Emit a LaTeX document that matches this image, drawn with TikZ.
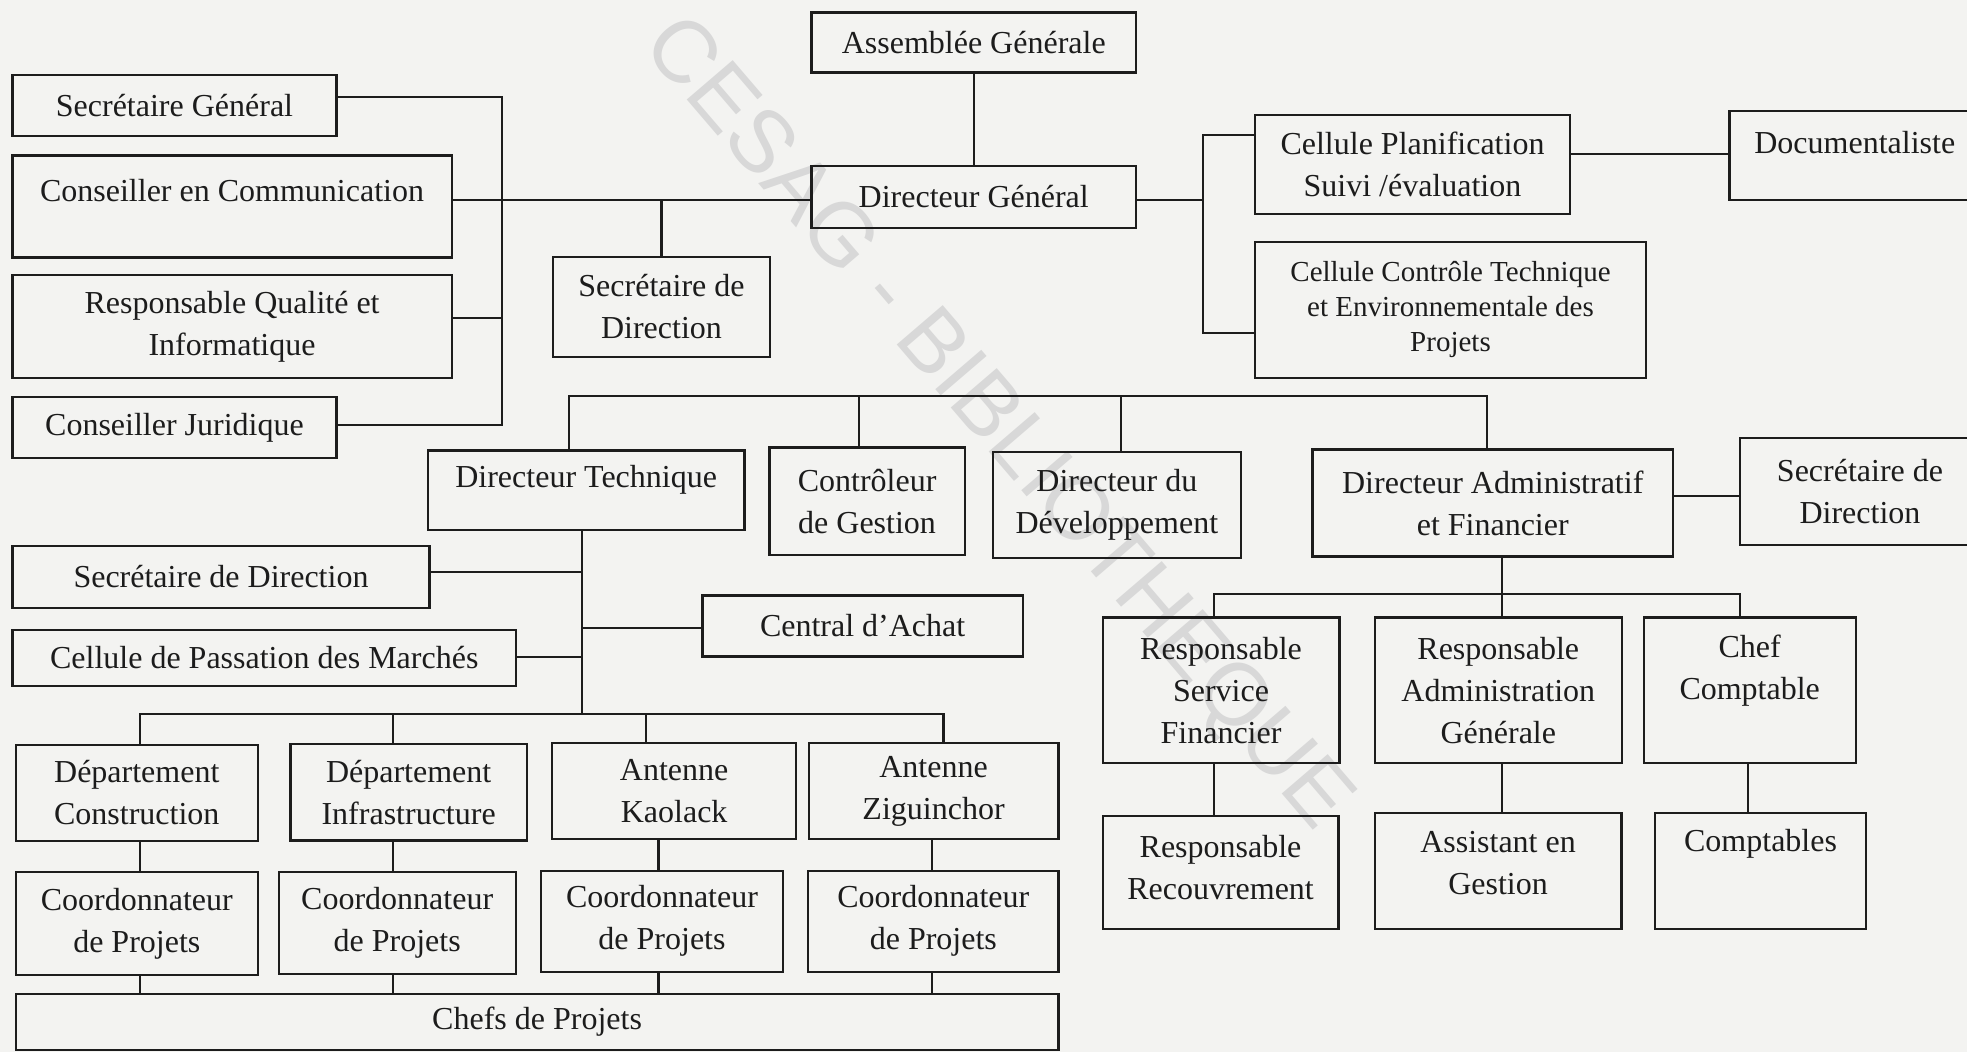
\documentclass[tikz,border=0pt]{standalone}
\usepackage{fontspec}
\setmainfont{Liberation Serif}
\newfontfamily\wmfont{Liberation Sans}
\definecolor{bg}{RGB}{243,243,241}
\definecolor{ink}{RGB}{28,28,28}
\definecolor{wmc}{RGB}{216,216,216}
\tikzset{
  box/.style={draw=ink, line width=1.1pt, inner sep=0pt, align=center, text=ink,
    font=\fontsize{16}{21}\selectfont},
  smalltext/.style={font=\fontsize{14.5}{17.5}\selectfont},
  link/.style={draw=ink, line width=1.1pt},
  wm/.style={text=wmc, font=\wmfont\fontsize{44}{44}\selectfont, inner sep=0pt}
}
% \bx[opts]{name}{x1}{y1}{x2}{y2}{text}
\newcommand\bx[7][]{\node[box,#1,minimum width={(#5-#3)*0.5pt},minimum height={(#6-#4)*0.5pt}] (#2) at ({(#3+#5)/2},{(#4+#6)/2}) {#7};}
\begin{document}
\begin{tikzpicture}[x=0.5pt,y=-0.5pt]
\useasboundingbox (0,0) rectangle (1967,1052);
\fill[bg] (0,0) rectangle (1967,1052);
\clip (0,0) rectangle (1967,1052);
\node[wm, rotate=-49.4] (wmark) at (995,425) {CESAG - BIBLIOTHEQUE};

% top level
\bx{ag}{811.5}{12.5}{1136}{72.5}{Assemblée Générale}
\bx{dg}{811.5}{166}{1136}{228}{Directeur Général}
% left staff
\bx{sg}{12.5}{75}{336.5}{136}{Secrétaire Général}
\bx{cc}{12.5}{155.6}{451.6}{257.5}{Conseiller en Communication\\[-5pt]\mbox{}}
\bx{rqi}{12.5}{275}{451.6}{378}{Responsable Qualité et\\Informatique}
\bx{cj}{12.5}{397}{336.5}{458}{Conseiller Juridique}
\bx{sdt}{553}{257}{770}{357}{Secrétaire de\\Direction}
% right staff
\bx{cps}{1255}{115}{1570}{214}{Cellule Planification\\Suivi /évaluation}
\bx{doc}{1729.5}{111}{1980}{200}{Documentaliste\\[-8pt]\mbox{}}
\bx[smalltext]{cct}{1255}{242}{1646}{378}{Cellule Contrôle Technique\\et Environnementale des\\Projets}
% directors
\bx{dt}{427.8}{450.5}{744.5}{530}{Directeur Technique\\[-7.5pt]\mbox{}}
\bx{cdg}{769.5}{447.5}{964.7}{555}{Contrôleur\\de Gestion}
\bx{ddd}{993}{452}{1240.7}{558.3}{Directeur du\\Développement}
\bx{daf}{1312.5}{449.5}{1673}{556.5}{Directeur Administratif\\et Financier}
\bx{sdr}{1740}{438}{1980}{545}{Secrétaire de\\Direction}
% technical branch
\bx{sdl}{12.5}{546}{429.5}{608}{Secrétaire de Direction}
\bx{ca}{702.5}{595.5}{1022.8}{656.5}{Central d’Achat}
\bx{cpm}{12.5}{630}{516}{686}{Cellule de Passation des Marchés}
\bx{dc}{15.8}{745}{257.8}{840.7}{Département\\Construction}
\bx{di}{290.5}{744}{526.8}{840.5}{Département\\Infrastructure}
\bx{ak}{552.3}{743.3}{796}{839.3}{Antenne\\Kaolack}
\bx{az}{808.7}{743.3}{1058.4}{839.3}{Antenne\\Ziguinchor}
\bx{c1}{15.8}{872.3}{257.8}{975}{Coordonnateur\\de Projets}
\bx{c2}{278.8}{871.7}{515.6}{974}{Coordonnateur\\de Projets}
\bx{c3}{541}{870.7}{783}{971.7}{Coordonnateur\\de Projets}
\bx{c4}{808.3}{870.7}{1058.4}{971.7}{Coordonnateur\\de Projets}
\bx{chefs}{15.8}{994}{1058.4}{1050}{Chefs de Projets}
% administrative branch
\bx{rsf}{1102.6}{617.5}{1339.5}{763}{Responsable\\Service\\Financier}
\bx{rag}{1374.6}{617.5}{1622}{763}{Responsable\\Administration\\Générale}
\bx{chc}{1643.6}{617.5}{1855.8}{763}{Chef\\Comptable\\[2.5pt]\mbox{}}
\bx{rr}{1102.6}{815.7}{1338.5}{929}{Responsable\\Recouvrement\\[-16pt]\mbox{}}
\bx{aeg}{1374.6}{813}{1621.5}{929}{Assistant en\\Gestion\\[-13pt]\mbox{}}
\bx{cpt}{1655.3}{813}{1865.8}{929}{Comptables\\[9.5pt]\mbox{}}

% junction coordinates
\coordinate (lb1) at (502,97);
\coordinate (lcc) at (502,200);
\coordinate (lrq) at (502,318);
\coordinate (lb4) at (502,425);
\coordinate (rb) at (1203,200);
\coordinate (rb1) at (1203,135);
\coordinate (rb2) at (1203,333);
\coordinate (dl) at (1650,154);
\coordinate (tb1) at (569,396);
\coordinate (tb3) at (859,396);
\coordinate (tb4) at (1121,396);
\coordinate (tb2) at (1487,396);
\coordinate (dv1) at (582,572);
\coordinate (dv2) at (582,628);
\coordinate (dv3) at (582,657);
\coordinate (db) at (582,714);
\coordinate (b1) at (140,714);
\coordinate (b2) at (393,714);
\coordinate (b3) at (646,714);
\coordinate (b4) at (943.5,714);
\coordinate (x3) at (658.5,714);
\coordinate (x4) at (932,714);
\coordinate (fb) at (1502,594);
\coordinate (fb1) at (1213.7,594);
\coordinate (fb3) at (1740,594);
\coordinate (cx) at (1748,594);
\coordinate (dr) at (1700,496);

% connectors
\draw[link] (ag) -- (dg);
\draw[link] (sg.east |- lb1) -- (lb1) -- (lb4) -- (cj.east |- lb4);
\draw[link] (cc.east |- lcc) -- (dg.west |- lcc);
\draw[link] (rqi.east |- lrq) -- (lrq);
\draw[link] (sdt.north) -- (sdt.north |- lcc);
\draw[link] (dg.east |- rb) -- (rb);
\draw[link] (cps.west |- rb1) -- (rb1) -- (rb2) -- (cct.west |- rb2);
\draw[link] (cps.east |- dl) -- (doc.west |- dl);
\draw[link] (tb1 |- dt.north) -- (tb1) -- (tb2) -- (tb2 |- daf.north);
\draw[link] (tb3) -- (tb3 |- cdg.north);
\draw[link] (tb4) -- (tb4 |- ddd.north);
\draw[link] (db |- dt.south) -- (db);
\draw[link] (sdl.east |- dv1) -- (dv1);
\draw[link] (cpm.east |- dv3) -- (dv3);
\draw[link] (dv2) -- (ca.west |- dv2);
\draw[link] (b1 |- dc.north) -- (b1) -- (b4) -- (b4 |- az.north);
\draw[link] (b2) -- (b2 |- di.north);
\draw[link] (b3) -- (b3 |- ak.north);
\draw[link] (b1 |- dc.south) -- (b1 |- c1.north);
\draw[link] (b2 |- di.south) -- (b2 |- c2.north);
\draw[link] (x3 |- ak.south) -- (x3 |- c3.north);
\draw[link] (x4 |- az.south) -- (x4 |- c4.north);
\draw[link] (b1 |- c1.south) -- (b1 |- chefs.north);
\draw[link] (b2 |- c2.south) -- (b2 |- chefs.north);
\draw[link] (x3 |- c3.south) -- (x3 |- chefs.north);
\draw[link] (x4 |- c4.south) -- (x4 |- chefs.north);
\draw[link] (fb |- daf.south) -- (fb);
\draw[link] (fb1 |- rsf.north) -- (fb1) -- (fb3) -- (fb3 |- chc.north);
\draw[link] (fb) -- (fb |- rag.north);
\draw[link] (fb1 |- rsf.south) -- (fb1 |- rr.north);
\draw[link] (fb |- rag.south) -- (fb |- aeg.north);
\draw[link] (cx |- chc.south) -- (cx |- cpt.north);
\draw[link] (daf.east |- dr) -- (sdr.west |- dr);
\end{tikzpicture}
\end{document}
